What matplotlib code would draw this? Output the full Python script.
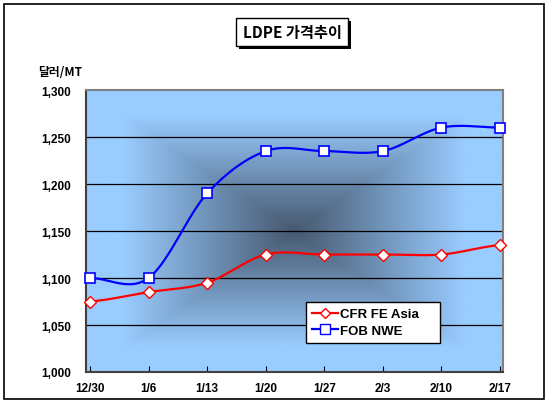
import numpy as np
import matplotlib
matplotlib.use("Agg")
import matplotlib.pyplot as plt
from matplotlib.patches import Rectangle
from matplotlib.colors import to_rgb

# --- data ---
dates = ["12/30", "1/6", "1/13", "1/20", "1/27", "2/3", "2/10", "2/17"]
cfr_fe_asia = [1075, 1085, 1095, 1125, 1125, 1125, 1125, 1135]
fob_nwe = [1100, 1100, 1190, 1235, 1235, 1235, 1260, 1260]
y_ticks = [1000, 1050, 1100, 1150, 1200, 1250, 1300]

W, H = 551, 410
plt.rcParams['font.family'] = ['Liberation Sans', 'Noto Sans CJK KR', 'DejaVu Sans']

fig = plt.figure(figsize=(W / 100, H / 100), dpi=100)


def fx(px):
    return px / W


def fy(py):
    return 1 - py / H


# outer frame
fig.patches.append(Rectangle((fx(4), fy(400)), fx(544) - fx(4), fy(5) - fy(400),
                             transform=fig.transFigure, fill=False, ec='black', lw=1.2))

# title box with shadow
fig.patches.append(Rectangle((fx(239), fy(50)), fx(112), fy(19) - fy(47),
                             transform=fig.transFigure, fc='black', ec='black', lw=0))
fig.patches.append(Rectangle((fx(236), fy(47)), fx(112), fy(19) - fy(47),
                             transform=fig.transFigure, fc='white', ec='black', lw=1))
fig.text(fx(292), fy(33), "LDPE 가격추이", ha='center', va='center', fontsize=11,
         fontweight='bold', family=['Noto Sans CJK KR', 'DejaVu Sans'])

fig.text(fx(38), fy(73), "달러/MT", ha='left', va='center', fontsize=8.5,
         fontweight='bold', family=['Noto Sans CJK KR', 'DejaVu Sans'])

# --- axes ---
left, right, top, bottom = 86, 503, 91, 373
ax = fig.add_axes([fx(left), fy(bottom), fx(right - left), fy(top) - fy(bottom)])
x = np.arange(len(dates))
unit = (500 - 90) / 7
ax.set_xlim(-(90 - left) / unit, 7 + (right - 500) / unit)
ax.set_ylim(1000, 1300)

# rectangular "from center" gradient background
ny, nx = 300, 420
gx = np.linspace(-1, 1, nx)
gy = np.linspace(-1, 1, ny)
GX, GY = np.meshgrid(gx, gy)
t = np.clip(np.maximum(np.abs(GX), np.abs(GY)) / 0.82, 0, 1)
dark = np.array(to_rgb('#46586f'))
light = np.array(to_rgb('#99ccff'))
img = dark[None, None, :] * (1 - t[..., None]) + light[None, None, :] * t[..., None]
ax.imshow(img, extent=(*ax.get_xlim(), 1000, 1300), aspect='auto', zorder=0,
          interpolation='bilinear')

for v in y_ticks[1:-1]:
    ax.axhline(v, color='black', lw=0.9, zorder=1)


def smooth(xs, ys, n=30):
    # Catmull-Rom curve through the points, like Excel's smoothed line
    xs = np.asarray(xs, float)
    ys = np.asarray(ys, float)
    px = np.concatenate([[2 * xs[0] - xs[1]], xs, [2 * xs[-1] - xs[-2]]])
    py = np.concatenate([[ys[0]], ys, [ys[-1]]])
    ox, oy = [], []
    for i in range(1, len(px) - 2):
        s = np.linspace(0, 1, n)
        for p, out in ((px, ox), (py, oy)):
            p0, p1, p2, p3 = p[i - 1], p[i], p[i + 1], p[i + 2]
            out.extend(0.5 * (2 * p1 + (-p0 + p2) * s
                              + (2 * p0 - 5 * p1 + 4 * p2 - p3) * s ** 2
                              + (-p0 + 3 * p1 - 3 * p2 + p3) * s ** 3))
    return ox, oy


sx, sy = smooth(x, cfr_fe_asia)
ax.plot(sx, sy, color='#ff0000', lw=1.6, zorder=3, clip_on=False)
ax.plot(x, cfr_fe_asia, ls='none', marker='D', ms=6, mfc='white', mec='#ff0000',
        mew=1, zorder=4, clip_on=False)
sx, sy = smooth(x, fob_nwe)
ax.plot(sx, sy, color='#0000ff', lw=1.6, zorder=3, clip_on=False)
ax.plot(x, fob_nwe, ls='none', marker='s', ms=7, mfc='white', mec='#0000ff',
        mew=1.2, zorder=4, clip_on=False)

# legend proxies
h1, = ax.plot([], [], color='#ff0000', lw=1.6, marker='D', ms=5.5, mfc='white', mec='#ff0000')
h2, = ax.plot([], [], color='#0000ff', lw=1.6, marker='s', ms=6.5, mfc='white', mec='#0000ff')
ax_w, ax_h = right - left, bottom - top
leg = ax.legend([h1, h2], ["CFR FE Asia", "FOB NWE"], loc='upper left', mode='expand',
                bbox_to_anchor=((306 - left) / ax_w, (bottom - 344) / ax_h,
                                134 / ax_w, 41 / ax_h),
                borderaxespad=0, fancybox=False, framealpha=1, edgecolor='black',
                prop={'weight': 'bold', 'size': 9.5}, handlelength=2.0, handletextpad=0.15,
                borderpad=0.45, labelspacing=0.35)
leg.get_frame().set_linewidth(1)
leg.set_zorder(5)

ax.set_xticks(x)
ax.set_xticklabels(dates, fontsize=8.5, fontweight='bold')
ax.set_yticks(y_ticks)
ax.set_yticklabels([f"{v:,}" for v in y_ticks], fontsize=8.5, fontweight='bold')
ax.tick_params(axis='x', direction='in', length=4, pad=7, width=0.8)
ax.tick_params(axis='y', length=0, pad=11)
for side, sp in ax.spines.items():
    sp.set_color('#808080' if side in ('top', 'right') else '#404040')
    sp.set_linewidth(1.5)

fig.savefig("out.png", dpi=100)
